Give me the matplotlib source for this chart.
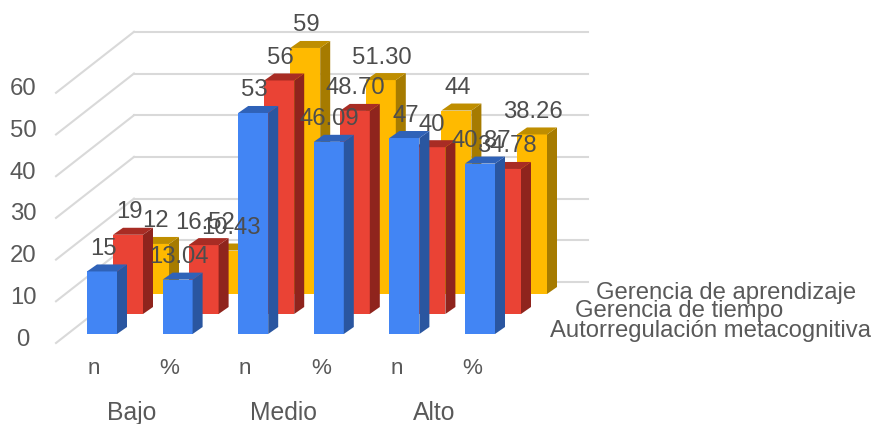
import numpy as np
from matplotlib import pyplot as plt
from matplotlib.patches import Polygon

plt.rcParams['font.family'] = ['Liberation Sans', 'DejaVu Sans']

sub_labels = ['n', '%', 'n', '%', 'n', '%']
group_labels = ['Bajo', 'Medio', 'Alto']
y_ticks = [0, 10, 20, 30, 40, 50, 60]

autorregulacion = [15, 13.04, 53, 46.09, 47, 40.87]
gerencia_tiempo = [19, 16.52, 56, 48.70, 40, 34.78]
gerencia_aprendizaje = [12, 10.43, 59, 51.30, 44, 38.26]
auto_text = ['15', '13.04', '53', '46.09', '47', '40.87']
tiempo_text = ['19', '16.52', '56', '48.70', '40', '34.78']
aprendizaje_text = ['12', '10.43', '59', '51.30', '44', '38.26']

# px per unit on each axis, used to fake the 3d look on a flat axes
X_PX = 75.6
Y_PX = 4.17

WIDTH = 30 / X_PX
DX = 10 / X_PX
DY = 7 / Y_PX
SERIES_DX = 26 / X_PX
SERIES_DY = 20 / Y_PX
TEXT = '#595959'
FS = 17.2

series = [
    # name, values, labels, front, side, top, name x offset
    ('Autorregulación metacognitiva', autorregulacion, auto_text, '#4285F4', '#2A56A0', '#2F62B8', 6.12),
    ('Gerencia de tiempo', gerencia_tiempo, tiempo_text, '#EA4335', '#8F241D', '#A82C24', 6.455),
    ('Gerencia de aprendizaje', gerencia_aprendizaje, aprendizaje_text, '#FFBA00', '#A67B00', '#BF8E00', 6.733),
]


def draw_bar(ax, x, base, value, front, side, top, zorder):
    ax.bar(x, value, WIDTH, bottom=base, align='edge', color=front, linewidth=0, zorder=zorder)
    right = x + WIDTH
    height = base + value
    ax.add_patch(Polygon([(right, base), (right + DX, base + DY), (right + DX, height + DY), (right, height)],
                         facecolor=side, linewidth=0, zorder=zorder))
    ax.add_patch(Polygon([(x, height), (x + DX, height + DY), (right + DX, height + DY), (right, height)],
                         facecolor=top, linewidth=0, zorder=zorder))


fig = plt.figure(figsize=(8.74, 4.24), dpi=100)
ax = fig.add_axes([0, 0, 1, 1])
ax.set_xlim(-87 / X_PX, (874 - 87) / X_PX)
ax.set_ylim((334 - 424) / Y_PX, 334 / Y_PX)
ax.axis('off')

# floor and wall gridlines
wall_x = 47 / X_PX
wall_base = 52 / Y_PX
for tick in y_ticks:
    ax.plot([-31 / X_PX, wall_x], [tick - 9 / Y_PX, tick + wall_base],
            color='#D9D9D9', lw=1.5, zorder=1)
    ax.plot([wall_x, 501 / X_PX], [tick + wall_base, tick + wall_base],
            color='#D9D9D9', lw=1.5, zorder=1)
    ax.text(-64 / X_PX, tick - 5.5 / Y_PX, str(tick), ha='center', va='center',
            color=TEXT, fontsize=FS, zorder=20)

# back series first so the front ones overlap them
positions = np.arange(len(sub_labels))
for s in [2, 1, 0]:
    name, values, labels, front, side, top, name_x = series[s]
    base = s * SERIES_DY
    for pos, value in zip(positions, values):
        draw_bar(ax, pos + s * SERIES_DX, base, value, front, side, top, 5 + (2 - s))
    ax.text(name_x, (3.5 + 19 * s) / Y_PX, name, ha='left', va='center', color=TEXT, fontsize=17.2, zorder=20)

for s in [2, 1, 0]:
    name, values, labels, front, side, top, name_x = series[s]
    for pos, value, label in zip(positions, values, labels):
        ax.text(pos + s * SERIES_DX + WIDTH / 2 + 1 / X_PX, s * SERIES_DY + value + 22.5 / Y_PX, label,
                ha='center', va='center', color='#4D4D4D', fontsize=FS, zorder=21)

for pos, label in zip(positions, sub_labels):
    ax.text(pos + 7 / X_PX, -35 / Y_PX, label, ha='center', va='center', color=TEXT, fontsize=16.2)
for i, label in enumerate(group_labels):
    ax.text(2 * i + 0.5 + 7 / X_PX, -79 / Y_PX, label, ha='center', va='center', color=TEXT, fontsize=17.8)

fig.savefig('out.png', dpi=100)
